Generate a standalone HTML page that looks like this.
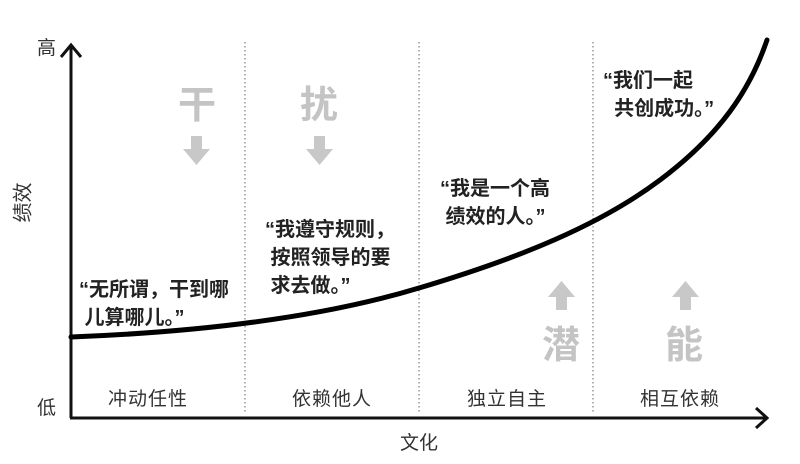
<!DOCTYPE html>
<html><head><meta charset="utf-8"><style>
body{margin:0;width:800px;height:464px;background:#fff;overflow:hidden;position:relative;font-family:"Liberation Sans","Noto Sans CJK SC",sans-serif}
.t{position:absolute;white-space:nowrap}
.q{font-weight:bold;font-size:20px;color:#222;line-height:28px}
.c{font-size:19px;color:#333;letter-spacing:1px}
.g{font-size:38px;color:#c4c4c4;font-weight:bold}
</style></head><body>
<svg width="800" height="464" style="position:absolute;left:0;top:0">
<g stroke="#666" stroke-width="1" stroke-dasharray="1.5,2.5">
<line x1="245" y1="42" x2="245" y2="414"/><line x1="419" y1="42" x2="419" y2="414"/><line x1="593" y1="42" x2="593" y2="414"/></g>
<g stroke="#111" stroke-width="3" fill="none">
<line x1="71" y1="418" x2="71" y2="46"/><polyline points="61,57 71,45 81,57"/>
<line x1="70" y1="418" x2="766" y2="418"/><polyline points="756,408 767,418 756,428"/>
</g>
<path d="M71,337 C200,332 320,318 419,288 C520,258 600,225 660,180 C720,135 750,90 767,40" stroke="#000" stroke-width="5" fill="none" stroke-linecap="round"/>
<g fill="#c8c8c8">
<path d="M191,136h11v13h8l-13.5,16l-13.5,-16h8z"/>
<path d="M314,136h11v13h8l-13.5,16l-13.5,-16h8z"/>
<path d="M556,310h11v-13h8l-13.5,-16l-13.5,16h8z"/>
<path d="M680,310h11v-13h8l-13.5,-16l-13.5,16h8z"/>
</g>
</svg>
<div class="t" style="left:37px;top:33px;font-size:19px;color:#333">高</div>
<div class="t" style="left:37px;top:393px;font-size:19px;color:#333">低</div>
<div class="t" style="left:1px;top:188px;font-size:20px;color:#333;transform:rotate(-90deg);">绩效</div>
<div class="t" style="left:400px;top:428px;font-size:19px;color:#333">文化</div>
<div class="t g" style="left:178px;top:74px">干</div>
<div class="t g" style="left:300px;top:74px">扰</div>
<div class="t g" style="left:542px;top:314px">潜</div>
<div class="t g" style="left:665px;top:314px">能</div>
<div class="t c" style="left:108px;top:384px">冲动任性</div>
<div class="t c" style="left:292px;top:384px">依赖他人</div>
<div class="t c" style="left:467px;top:384px">独立自主</div>
<div class="t c" style="left:640px;top:384px">相互依赖</div>
<div class="t q" style="left:79px;top:276px">“无所谓，干到哪<br>&nbsp;儿算哪儿。”</div>
<div class="t q" style="left:265px;top:216px">“我遵守规则，<br>&nbsp;按照领导的要<br>&nbsp;求去做。”</div>
<div class="t q" style="left:440px;top:175px">“我是一个高<br>&nbsp;绩效的人。”</div>
<div class="t q" style="left:603px;top:67px">“我们一起<br>&nbsp;&nbsp;共创成功。”</div>
</body></html>
